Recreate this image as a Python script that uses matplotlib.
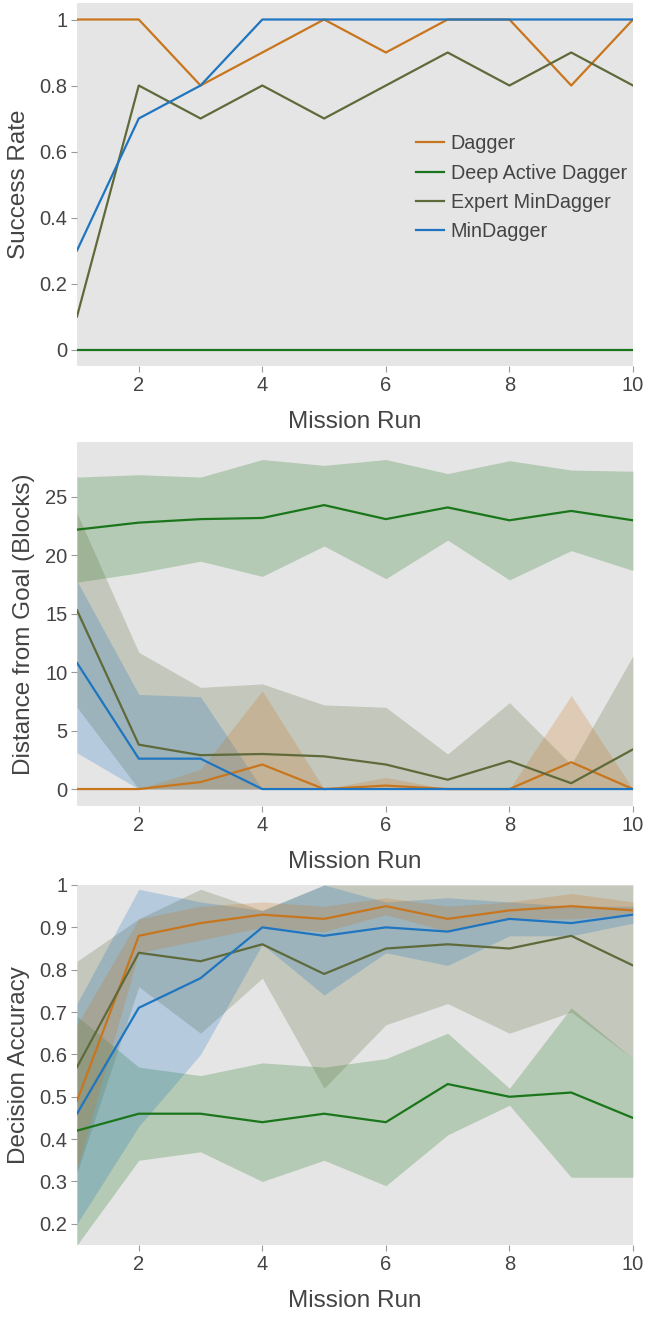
import matplotlib
matplotlib.use("Agg")
import matplotlib.pyplot as plt

runs = [1, 2, 3, 4, 5, 6, 7, 8, 9, 10]
names = ["Dagger", "Deep Active Dagger", "Expert MinDagger", "MinDagger"]
colors = ["#c8761e", "#1b761b", "#5f6a3a", "#1f75c0"]

# success rate
succ_dagger = [1, 1, 0.8, 0.9, 1, 0.9, 1, 1, 0.8, 1]
succ_deep = [0, 0, 0, 0, 0, 0, 0, 0, 0, 0]
succ_expert = [0.1, 0.8, 0.7, 0.8, 0.7, 0.8, 0.9, 0.8, 0.9, 0.8]
succ_min = [0.3, 0.7, 0.8, 1, 1, 1, 1, 1, 1, 1]

# distance from goal: mean, upper, lower
dist_dagger = [0, 0, 0.6, 2.1, 0, 0.3, 0, 0, 2.3, 0]
dist_dagger_hi = [0, 0, 1.7, 8.4, 0, 1.0, 0, 0, 8.0, 0]
dist_dagger_lo = [0, 0, 0, 0, 0, 0, 0, 0, 0, 0]
dist_deep = [22.2, 22.8, 23.1, 23.2, 24.3, 23.1, 24.1, 23.0, 23.8, 23.0]
dist_deep_hi = [26.7, 26.9, 26.7, 28.2, 27.7, 28.2, 27.0, 28.1, 27.3, 27.2]
dist_deep_lo = [17.7, 18.5, 19.5, 18.2, 20.8, 18.0, 21.3, 17.9, 20.4, 18.7]
dist_expert = [15.3, 3.8, 2.9, 3.0, 2.8, 2.1, 0.8, 2.4, 0.5, 3.4]
dist_expert_hi = [23.6, 11.7, 8.7, 9.0, 7.2, 7.0, 3.0, 7.4, 2.1, 11.4]
dist_expert_lo = [7.0, 0, 0, 0, 0, 0, 0, 0, 0, 0]
dist_min = [10.8, 2.6, 2.6, 0, 0, 0, 0, 0, 0, 0]
dist_min_hi = [17.8, 8.1, 7.9, 0, 0, 0, 0, 0, 0, 0]
dist_min_lo = [3.1, 0, 0, 0, 0, 0, 0, 0, 0, 0]

# decision accuracy: mean, upper, lower
acc_dagger = [0.49, 0.88, 0.91, 0.93, 0.92, 0.95, 0.92, 0.94, 0.95, 0.94]
acc_dagger_hi = [0.67, 0.92, 0.95, 0.96, 0.95, 0.97, 0.95, 0.96, 0.98, 0.96]
acc_dagger_lo = [0.33, 0.84, 0.87, 0.90, 0.89, 0.93, 0.89, 0.92, 0.92, 0.93]
acc_deep = [0.42, 0.46, 0.46, 0.44, 0.46, 0.44, 0.53, 0.50, 0.51, 0.45]
acc_deep_hi = [0.69, 0.57, 0.55, 0.58, 0.57, 0.59, 0.65, 0.52, 0.71, 0.59]
acc_deep_lo = [0.15, 0.35, 0.37, 0.30, 0.35, 0.29, 0.41, 0.48, 0.31, 0.31]
acc_expert = [0.57, 0.84, 0.82, 0.86, 0.79, 0.85, 0.86, 0.85, 0.88, 0.81]
acc_expert_hi = [0.82, 0.92, 0.99, 0.94, 1.0, 1.0, 1.0, 1.0, 1.0, 1.0]
acc_expert_lo = [0.32, 0.76, 0.65, 0.78, 0.52, 0.67, 0.72, 0.65, 0.70, 0.59]
acc_min = [0.46, 0.71, 0.78, 0.90, 0.88, 0.90, 0.89, 0.92, 0.91, 0.93]
acc_min_hi = [0.72, 0.99, 0.96, 0.94, 1.0, 0.96, 0.97, 0.96, 0.95, 0.95]
acc_min_lo = [0.20, 0.43, 0.60, 0.86, 0.74, 0.84, 0.81, 0.88, 0.88, 0.91]

txt = "#444444"
fam = ["Liberation Sans", "DejaVu Sans"]
plt.rcParams["font.family"] = fam

fig = plt.figure(figsize=(6.45, 13.18), dpi=100)
W, H = 645.0, 1318.0


def make_ax(top, bottom, ylabel):
    ax = fig.add_axes([77 / W, 1 - bottom / H, (633 - 77) / W, (bottom - top) / H])
    ax.set_facecolor("#e5e5e5")
    for s in ax.spines.values():
        s.set_visible(False)
    ax.tick_params(colors="#9a9a9a", labelcolor=txt, length=4, width=0.8,
                   labelsize=14.5, pad=3)
    ax.set_xlim(1, 10)
    ax.set_xticks([2, 4, 6, 8, 10])
    ax.set_xticklabels(["2", "4", "6", "8", "10"])
    ax.set_xlabel("Mission Run", fontsize=17.5, color=txt, labelpad=12)
    ax.set_ylabel(ylabel, fontsize=17.5, color=txt, labelpad=7)
    return ax


def fmt(v):
    return "%g" % v


# panel 1
ax1 = make_ax(3, 366, "Success Rate")
for ys, c, n in zip([succ_dagger, succ_deep, succ_expert, succ_min], colors, names):
    ax1.plot(runs, ys, color=c, lw=1.6, label=n)
ax1.set_ylim(-0.05, 1.05)
yt1 = [0, 0.2, 0.4, 0.6, 0.8, 1]
ax1.set_yticks(yt1)
ax1.set_yticklabels([fmt(v) for v in yt1])
leg = ax1.legend(loc="upper left", bbox_to_anchor=(0.596, 0.66), frameon=False,
                 prop={"size": 14.2}, handlelength=1.4, handletextpad=0.35,
                 labelspacing=0.52, borderaxespad=0)
for t in leg.get_texts():
    t.set_color(txt)

# panel 2
ax2 = make_ax(442, 806, "Distance from Goal (Blocks)")
bands = [(dist_deep_lo, dist_deep_hi, colors[1]),
         (dist_expert_lo, dist_expert_hi, colors[2]),
         (dist_min_lo, dist_min_hi, colors[3]),
         (dist_dagger_lo, dist_dagger_hi, colors[0])]
for lo, hi, c in bands:
    ax2.fill_between(runs, lo, hi, color=c, alpha=0.24, lw=0)
for ys, c in zip([dist_dagger, dist_deep, dist_expert, dist_min], colors):
    ax2.plot(runs, ys, color=c, lw=1.6)
ax2.set_ylim(-1.45, 29.7)
ax2.set_yticks([0, 5, 10, 15, 20, 25])
ax2.set_yticklabels(["0", "5", "10", "15", "20", "25"])

# panel 3
ax3 = make_ax(885, 1245, "Decision Accuracy")
bands = [(acc_deep_lo, acc_deep_hi, colors[1]),
         (acc_expert_lo, acc_expert_hi, colors[2]),
         (acc_min_lo, acc_min_hi, colors[3]),
         (acc_dagger_lo, acc_dagger_hi, colors[0])]
for lo, hi, c in bands:
    ax3.fill_between(runs, lo, hi, color=c, alpha=0.24, lw=0)
for ys, c in zip([acc_dagger, acc_deep, acc_expert, acc_min], colors):
    ax3.plot(runs, ys, color=c, lw=1.6)
ax3.set_ylim(0.15, 1.0)
yt3 = [0.2, 0.3, 0.4, 0.5, 0.6, 0.7, 0.8, 0.9, 1]
ax3.set_yticks(yt3)
ax3.set_yticklabels([fmt(v) for v in yt3])

fig.savefig("out.png", dpi=100, facecolor="white")
